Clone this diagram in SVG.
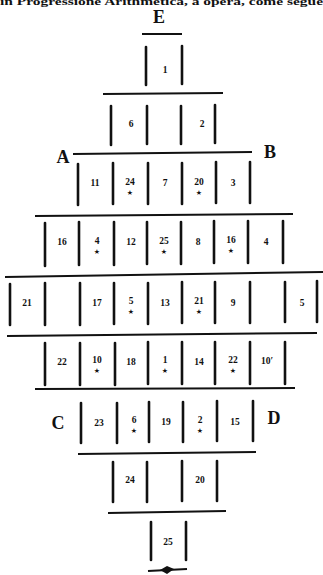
<svg xmlns="http://www.w3.org/2000/svg" width="323" height="575" viewBox="0 0 323 575">
<style>
.bar{stroke:#111;stroke-width:2.6;stroke-linecap:round}
.rule{stroke:#111;stroke-width:2;fill:none}
.n{font-family:"Liberation Serif",serif;font-weight:bold;font-size:9.5px;fill:#111;text-anchor:middle}
.s{font-family:"DejaVu Sans",sans-serif;font-size:7px;fill:#111;text-anchor:middle}
.L{font-family:"Liberation Serif",serif;font-weight:bold;font-size:18px;fill:#111;text-anchor:middle}
.hdr{font-family:"Liberation Serif",serif;font-weight:bold;font-size:11px;fill:#111}
</style>
<rect width="323" height="575" fill="#fff"/>
<text class="hdr" x="0" y="5" textLength="323" lengthAdjust="spacingAndGlyphs">in Progressione Arithmetica, a opera, come segue</text>
<g id="labels">
<text class="L" x="159" y="23">E</text>
<text class="L" x="63" y="163">A</text>
<text class="L" x="270" y="158">B</text>
<text class="L" x="58" y="429">C</text>
<text class="L" x="274" y="424">D</text>
</g>
<g id="connectors">
<line class="rule" x1="142" y1="34" x2="182" y2="34"/>
<line class="rule" x1="103" y1="94" x2="223" y2="93"/>
<line class="rule" x1="73" y1="154" x2="252" y2="152"/>
<line class="rule" x1="35" y1="216" x2="293" y2="214"/>
<line class="rule" x1="5" y1="277" x2="323" y2="272"/>
<line class="rule" x1="7" y1="336" x2="317" y2="333"/>
<line class="rule" x1="35" y1="389" x2="295" y2="388"/>
<line class="rule" x1="78" y1="454" x2="256" y2="452"/>
<line class="rule" x1="108" y1="513" x2="226" y2="511"/>
<line class="rule" x1="148" y1="571" x2="187" y2="569"/>
<path d="M160 570 L167 566 L174 569 L167 574 Z" fill="#111"/>
</g>
<g id="row1">
<line class="bar" x1="146" y1="47" x2="146" y2="85"/><line class="bar" x1="182" y1="46" x2="182" y2="84"/>
<text class="n" x="165" y="73">1</text>
</g>
<g id="row2">
<line class="bar" x1="111" y1="106" x2="111" y2="145"/><line class="bar" x1="147" y1="106" x2="147" y2="144"/>
<line class="bar" x1="181" y1="106" x2="181" y2="144"/><line class="bar" x1="215" y1="105" x2="215" y2="143"/>
<text class="n" x="131" y="127">6</text><text class="n" x="202" y="127">2</text>
</g>
<g id="row3">
<line class="bar" x1="78" y1="164" x2="78" y2="205"/><line class="bar" x1="113" y1="163" x2="113" y2="204"/>
<line class="bar" x1="148" y1="163" x2="148" y2="204"/><line class="bar" x1="182" y1="163" x2="182" y2="204"/>
<line class="bar" x1="216" y1="162" x2="216" y2="203"/><line class="bar" x1="250" y1="162" x2="250" y2="203"/>
<text class="n" x="95" y="186">11</text>
<text class="n" x="130" y="185">24</text><text class="s" x="130" y="195">★</text>
<text class="n" x="165" y="186">7</text>
<text class="n" x="199" y="185">20</text><text class="s" x="199" y="195">★</text>
<text class="n" x="233" y="186">3</text>
</g>
<g id="row4">
<line class="bar" x1="45" y1="223" x2="45" y2="266"/><line class="bar" x1="79" y1="222" x2="79" y2="265"/>
<line class="bar" x1="114" y1="222" x2="114" y2="265"/><line class="bar" x1="147" y1="222" x2="147" y2="264"/>
<line class="bar" x1="181" y1="222" x2="181" y2="264"/><line class="bar" x1="214" y1="221" x2="214" y2="263"/>
<line class="bar" x1="248" y1="221" x2="248" y2="263"/><line class="bar" x1="283" y1="221" x2="283" y2="263"/>
<text class="n" x="62" y="245">16</text>
<text class="n" x="97" y="244">4</text><text class="s" x="97" y="254">★</text>
<text class="n" x="131" y="245">12</text>
<text class="n" x="164" y="244">25</text><text class="s" x="164" y="254">★</text>
<text class="n" x="198" y="245">8</text>
<text class="n" x="231" y="243">16</text><text class="s" x="231" y="253">★</text>
<text class="n" x="266" y="245">4</text>
</g>
<g id="row5">
<line class="bar" x1="10" y1="284" x2="10" y2="325"/><line class="bar" x1="45" y1="283" x2="45" y2="325"/>
<line class="bar" x1="80" y1="283" x2="80" y2="325"/><line class="bar" x1="114" y1="283" x2="114" y2="324"/>
<line class="bar" x1="148" y1="283" x2="148" y2="324"/><line class="bar" x1="182" y1="282" x2="182" y2="323"/>
<line class="bar" x1="215" y1="282" x2="215" y2="323"/><line class="bar" x1="250" y1="282" x2="250" y2="323"/>
<line class="bar" x1="285" y1="282" x2="285" y2="322"/><line class="bar" x1="317" y1="281" x2="317" y2="322"/>
<text class="n" x="27" y="306">21</text>
<text class="n" x="97" y="306">17</text>
<text class="n" x="131" y="304">5</text><text class="s" x="131" y="314">★</text>
<text class="n" x="165" y="306">13</text>
<text class="n" x="199" y="304">21</text><text class="s" x="199" y="314">★</text>
<text class="n" x="233" y="306">9</text>
<text class="n" x="302" y="306">5</text>
</g>
<g id="row6">
<line class="bar" x1="45" y1="343" x2="45" y2="385"/><line class="bar" x1="80" y1="343" x2="80" y2="385"/>
<line class="bar" x1="115" y1="343" x2="115" y2="385"/><line class="bar" x1="148" y1="342" x2="148" y2="384"/>
<line class="bar" x1="182" y1="342" x2="182" y2="384"/><line class="bar" x1="215" y1="342" x2="215" y2="384"/>
<line class="bar" x1="250" y1="342" x2="250" y2="384"/><line class="bar" x1="285" y1="342" x2="285" y2="384"/>
<text class="n" x="62" y="365">22</text>
<text class="n" x="97" y="363">10</text><text class="s" x="97" y="373">★</text>
<text class="n" x="131" y="365">18</text>
<text class="n" x="165" y="363">1</text><text class="s" x="165" y="373">★</text>
<text class="n" x="199" y="365">14</text>
<text class="n" x="233" y="363">22</text><text class="s" x="233" y="373">★</text>
<text class="n" x="267" y="364">10′</text>
</g>
<g id="row7">
<line class="bar" x1="81" y1="403" x2="81" y2="443"/><line class="bar" x1="117" y1="403" x2="117" y2="443"/>
<line class="bar" x1="149" y1="402" x2="149" y2="442"/><line class="bar" x1="183" y1="402" x2="183" y2="442"/>
<line class="bar" x1="217" y1="401" x2="217" y2="441"/><line class="bar" x1="253" y1="401" x2="253" y2="441"/>
<text class="n" x="99" y="426">23</text>
<text class="n" x="134" y="423">6</text><text class="s" x="134" y="433">★</text>
<text class="n" x="166" y="425">19</text>
<text class="n" x="200" y="423">2</text><text class="s" x="200" y="433">★</text>
<text class="n" x="235" y="425">15</text>
</g>
<g id="row8">
<line class="bar" x1="113" y1="462" x2="113" y2="502"/><line class="bar" x1="147" y1="462" x2="147" y2="502"/>
<line class="bar" x1="182" y1="461" x2="182" y2="501"/><line class="bar" x1="217" y1="461" x2="217" y2="501"/>
<text class="n" x="130" y="483">24</text>
<text class="n" x="200" y="483">20</text>
</g>
<g id="row9">
<line class="bar" x1="151" y1="522" x2="151" y2="560"/><line class="bar" x1="186" y1="522" x2="186" y2="560"/>
<text class="n" x="168" y="545">25</text>
</g>
</svg>
